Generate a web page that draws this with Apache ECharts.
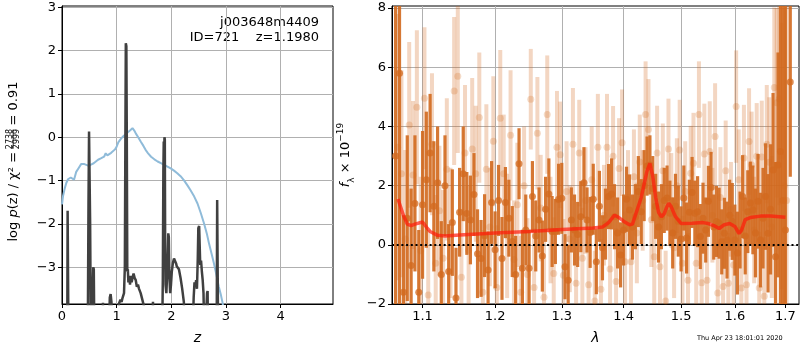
<!DOCTYPE html>
<html lang="en">
<head>
    <meta charset="UTF-8">
    <title>pz and spectrum</title>
    <script src="https://cdn.jsdelivr.net/npm/echarts@6/dist/echarts.min.js"></script>
    <style>
        html, body { margin: 0; padding: 0; background: #fff; }
    </style>
</head>
<body>
<div id="myChart" style="width: 800px;height:350px;"></div>
<script type="text/javascript">
    // left panel: log p(z)
    var zTicks = [0, 1, 2, 3, 4];
    var pTicks = [-3, -2, -1, 0, 1, 2, 3];
    var zBlue = [0.0, 0.02, 0.05, 0.08, 0.11, 0.16, 0.19, 0.22, 0.26, 0.3, 0.35, 0.38, 0.41, 0.44, 0.49, 0.53, 0.58, 0.62, 0.66, 0.69,
        0.71, 0.74, 0.77, 0.8, 0.83, 0.86, 0.9, 0.93, 0.97, 1.0, 1.03, 1.07, 1.11, 1.16, 1.2, 1.25, 1.29, 1.32, 1.35, 1.4,
        1.44, 1.49, 1.53, 1.58, 1.63, 1.69, 1.75, 1.81, 1.87, 1.93, 1.99, 2.05, 2.11, 2.17, 2.23, 2.29, 2.35, 2.42, 2.48, 2.54,
        2.6, 2.65, 2.69, 2.74, 2.78, 2.83, 2.87, 2.91, 2.94, 2.97];
    var pBlue = [-1.55, -1.35, -1.18, -1.05, -0.97, -0.93, -0.94, -0.98, -0.8, -0.72, -0.62, -0.58, -0.62, -0.64, -0.66, -0.63, -0.6, -0.56, -0.52, -0.54,
        -0.49, -0.51, -0.45, -0.37, -0.42, -0.4, -0.36, -0.34, -0.28, -0.22, -0.12, -0.05, 0.01, 0.06, 0.11, 0.16, 0.21, 0.16, 0.09, -0.01,
        -0.1, -0.2, -0.29, -0.38, -0.45, -0.51, -0.56, -0.6, -0.64, -0.68, -0.72, -0.77, -0.83, -0.9, -0.99, -1.1, -1.22, -1.37, -1.53, -1.75,
        -1.99, -2.22, -2.45, -2.7, -2.91, -3.2, -3.45, -3.65, -3.83, -4.1];
    var zDark = [0.0, 0.095, 0.103, 0.113, 0.12, 0.47, 0.485, 0.495, 0.505, 0.515, 0.53, 0.56, 0.572, 0.582, 0.595,
        0.73, 0.75, 0.765, 0.85, 0.875, 0.89, 0.905, 0.92, 1.0, 1.04, 1.07, 1.09, 1.11, 1.135, 1.15,
        1.16, 1.168, 1.178, 1.186, 1.195, 1.205, 1.215, 1.23, 1.245, 1.26, 1.275, 1.29, 1.31, 1.33, 1.35,
        1.37, 1.39, 1.41, 1.44, 1.47, 1.5, 1.52, 1.64, 1.665, 1.685, 1.83, 1.845, 1.855, 1.862, 1.868,
        1.875, 1.882, 1.888, 1.895, 1.91, 1.93, 1.945, 1.955, 1.965, 1.98, 1.995, 2.01, 2.03, 2.05, 2.07,
        2.09, 2.1, 2.12, 2.14, 2.17, 2.2, 2.23, 2.25, 2.38, 2.41, 2.425, 2.44, 2.455, 2.47, 2.485,
        2.495, 2.51, 2.52, 2.53, 2.545, 2.56, 2.575, 2.59, 2.61, 2.645, 2.655, 2.665, 2.675, 2.83, 2.84,
        2.85, 2.86, 4.96];
    var pDark = [-5, -5, -1.7, -1.7, -5, -5, -1.5, 0.13, 0.1, -2.0, -5, -5, -3.0, -3.05, -5,
        -5, -3.82, -5, -5, -3.7, -3.62, -3.8, -5, -5, -3.85, -3.75, -3.8, -3.7, -3.6, -3.0,
        0.0, 2.17, 2.1, 0.0, -3.1, -3.05, -3.35, -3.2, -3.4, -3.2, -3.35, -3.25, -3.15, -3.25, -3.3,
        -3.45, -3.4, -3.5, -3.6, -3.75, -3.9, -5, -5, -3.8, -5, -5, -3.3, -0.8, -0.1, -1.0,
        0.0, -0.05, -2.5, -3.4, -3.6, -3.0, -2.22, -2.3, -3.2, -3.6, -3.4, -3.1, -2.9, -2.8, -2.78,
        -2.92, -2.98, -2.95, -3.05, -3.25, -3.5, -3.8, -5, -5, -3.7, -3.35, -3.45, -3.3, -3.5, -2.8,
        -2.1, -2.05, -2.5, -2.95, -2.85, -3.1, -3.3, -3.6, -5, -5, -3.6, -3.55, -5, -5, -1.45,
        -1.45, -5, -5];

    // right panel: spectrum
    var lamTicks = [1.1, 1.2, 1.3, 1.4, 1.5, 1.6, 1.7];
    var fTicks = [-2, 0, 2, 4, 6, 8];
    var darkLam = [1.065, 1.070, 1.075, 1.080, 1.085, 1.090, 1.095, 1.100, 1.105, 1.110,
        1.115, 1.120, 1.125, 1.130, 1.135, 1.140, 1.145, 1.150, 1.155, 1.160,
        1.165, 1.170, 1.175, 1.180, 1.185, 1.190, 1.195, 1.200, 1.205, 1.210,
        1.215, 1.220, 1.225, 1.230, 1.235, 1.240, 1.245, 1.250, 1.255, 1.260,
        1.265, 1.270, 1.275, 1.280, 1.285, 1.290, 1.295, 1.300, 1.305, 1.310,
        1.315, 1.320, 1.325, 1.330, 1.335, 1.340, 1.345, 1.350, 1.355, 1.360,
        1.365, 1.370, 1.375, 1.380, 1.385, 1.390, 1.395, 1.400, 1.405, 1.410,
        1.415, 1.420, 1.425, 1.430, 1.435, 1.440, 1.445, 1.450, 1.455, 1.460,
        1.465, 1.470, 1.475, 1.480, 1.485, 1.490, 1.495, 1.500, 1.505, 1.510,
        1.515, 1.520, 1.525, 1.530, 1.535, 1.540, 1.545, 1.550, 1.555, 1.560,
        1.565, 1.570, 1.575, 1.580, 1.585, 1.590, 1.595, 1.600, 1.605, 1.610,
        1.615, 1.620, 1.625, 1.630, 1.635, 1.640, 1.645, 1.650, 1.655, 1.660,
        1.665, 1.670, 1.675, 1.680, 1.685, 1.690, 1.695, 1.700, 1.710];
    var darkFlux = [3.0, 5.8, -1.6, 0.9, -0.7, 1.4, -1.6, 1.35, 2.2, 3.1,
        1.3, 2.1, -1.0, 2.0, -0.9, 0.75, -1.8, 1.1, 2.4, 1.06,
        0.84, 1.7, -0.3, -0.46, 0.31, -0.85, 1.43, -0.17, 1.5, -0.46,
        1.43, 0.9, 0.11, -1.0, 2.74, -0.79, 0.5, -0.79, 1.63, 0.3,
        0.84, -0.38, 1.2, 1.72, 0.45, 0.45, 1.54, 1.57, -0.74, -1.2,
        0.84, 0.5, 0.35, 0.95, 2.1, 0.84, 0.42, 1.54, -0.57, 1.3,
        -0.1, 0.7, 1.63, 1.72, 0.95, 0.4, -0.34, 0.5, 1.54, 1.18,
        0.6, 0.95, 1.8, 1.12, 2.0, 2.66, 2.7, 1.9, 1.3, 0.6,
        0.95, 1.5, 1.58, 1.07, 0.4, 1.3, 0.8, 0.2, 1.58, 0.23,
        1.1, 1.77, 1.07, 1.12, 0.28, 0.9, 0.5, 1.47, 1.94, 0.6,
        0.79, 0.73, 0.1, 0.39, 0.16, 1.0, 0.79, 0.16, -0.28, 0.5,
        1.63, 0.3, 1.12, 1.41, 1.18, 0.4, 1.47, 0.16, 0.9, 1.63,
        0.39, 1.2, 2.53, -0.4, 2.7, 3.15, 1.5, 0.5, 5.5];
    var darkErr = [9, 8, 2.6, 2.8, 2.6, 2.3, 2.1, 2.5, 2.3, 2.0,
        2.2, 1.9, 1.8, 1.7, 1.6, 1.8, 1.7, 1.5, 1.6, 1.4,
        1.5, 1.4, 1.5, 1.3, 1.4, 1.3, 1.4, 1.3, 1.2, 1.4,
        1.2, 1.3, 1.2, 1.3, 1.2, 1.3, 1.2, 1.3, 1.2, 1.2,
        1.1, 1.2, 1.1, 1.2, 1.2, 1.1, 1.2, 1.2, 1.1, 1.2,
        1.1, 1.2, 1.1, 1.2, 1.2, 1.1, 1.2, 1.2, 1.1, 1.2,
        1.1, 1.2, 1.1, 1.2, 1.1, 1.2, 1.1, 1.2, 1.1, 1.2,
        1.1, 1.1, 1.2, 1.1, 1.2, 1.0, 1.0, 1.1, 1.1, 1.2,
        1.1, 1.1, 1.1, 1.1, 1.2, 1.1, 1.2, 1.1, 1.1, 1.2,
        1.1, 1.2, 1.1, 1.2, 1.1, 1.2, 1.1, 1.2, 1.2, 1.1,
        1.2, 1.2, 1.1, 1.2, 1.3, 1.2, 1.3, 1.2, 1.4, 1.3,
        1.4, 1.3, 1.4, 1.4, 1.5, 1.5, 1.6, 1.6, 1.7, 1.8,
        2.0, 2.2, 2.6, 3.2, 3.8, 5.5, 7, 9, 3.2];
    var lightLam = [1.0675, 1.0725, 1.0775, 1.0825, 1.0875, 1.0925, 1.0975, 1.1025, 1.1075, 1.1125,
        1.1175, 1.1225, 1.1275, 1.1325, 1.1375, 1.1425, 1.1475, 1.1525, 1.1575, 1.1625,
        1.1675, 1.1725, 1.1775, 1.1825, 1.1875, 1.1925, 1.1975, 1.2025, 1.2075, 1.2125,
        1.2175, 1.2225, 1.2275, 1.2325, 1.2375, 1.2425, 1.2475, 1.2525, 1.2575, 1.2625,
        1.2675, 1.2725, 1.2775, 1.2825, 1.2875, 1.2925, 1.2975, 1.3025, 1.3075, 1.3125,
        1.3175, 1.3225, 1.3275, 1.3325, 1.3375, 1.3425, 1.3475, 1.3525, 1.3575, 1.3625,
        1.3675, 1.3725, 1.3775, 1.3825, 1.3875, 1.3925, 1.3975, 1.4025, 1.4075, 1.4125,
        1.4175, 1.4225, 1.4275, 1.4325, 1.4375, 1.4425, 1.4475, 1.4525, 1.4575, 1.4625,
        1.4675, 1.4725, 1.4775, 1.4825, 1.4875, 1.4925, 1.4975, 1.5025, 1.5075, 1.5125,
        1.5175, 1.5225, 1.5275, 1.5325, 1.5375, 1.5425, 1.5475, 1.5525, 1.5575, 1.5625,
        1.5675, 1.5725, 1.5775, 1.5825, 1.5875, 1.5925, 1.5975, 1.6025, 1.6075, 1.6125,
        1.6175, 1.6225, 1.6275, 1.6325, 1.6375, 1.6425, 1.6475, 1.6525, 1.6575, 1.6625,
        1.6675, 1.6725, 1.6775, 1.6825, 1.6875, 1.6925, 1.6975, 1.7025];
    var lightFlux = [3.3, 2.4, 0.2, 4.05, 2.36, 4.65, -0.2, 4.95, -1.7, 3.4,
        -0.62, 1.15, -0.45, 2.55, 0.4, 5.2, 5.7, -1.1, 3.1, -0.18,
        3.24, 2.4, 4.3, -1.6, 2.55, 0.6, 3.5, -1.44, 4.28, 2.4,
        0.3, 3.7, -0.5, 1.35, -1.6, 2.0, -1.0, 4.92, -1.44, 3.77,
        1.24, -1.77, 4.4, 0.5, -0.97, 3.3, 3.04, -1.03, 1.8, 0.2,
        3.4, -1.3, 3.1, -0.45, 1.5, -1.35, 2.2, -1.9, 3.3, -1.5,
        1.0, 3.3, -0.82, 2.99, -1.24, 2.58, 3.45, -0.57, 1.6, -0.57,
        2.3, 0.4, 2.8, 1.5, 4.4, 3.9, 0.85, -0.4, 3.1, -0.74,
        2.5, -1.9, 3.24, 1.5, -0.1, 2.0, 3.2, -0.62, 1.8, -1.2,
        2.42, 2.76, -0.62, 4.4, -1.28, 3.07, -1.2, 3.15, 1.0, 3.66,
        -1.63, 1.6, -1.41, 2.5, -1.3, 1.2, -0.68, 4.67, 2.2, -1.46,
        2.93, -1.35, 3.49, 2.7, 0.5, 2.99, -1.46, 2.97, -1.74, 3.4,
        2.79, 0.6, 5.32, 4.8, 4.94, 3.0, 2.0, 1.5];
    var lightErr = [4.5, 3.5, 3.0, 2.8, 2.5, 2.6, 2.5, 2.4, 2.2, 2.4,
        2.3, 2.2, 2.3, 2.4, 2.2, 2.5, 2.6, 2.3, 2.3, 2.2,
        2.4, 2.3, 2.2, 2.1, 2.2, 2.0, 2.2, 2.1, 2.3, 2.0,
        2.1, 2.2, 2.0, 2.1, 1.9, 2.0, 1.9, 1.7, 2.0, 1.9,
        1.8, 1.9, 2.0, 1.8, 1.9, 1.9, 1.8, 1.9, 1.7, 1.8,
        1.9, 1.8, 1.8, 1.7, 1.8, 1.7, 1.8, 1.7, 1.8, 1.7,
        1.7, 1.8, 1.7, 1.7, 1.8, 1.7, 1.8, 1.7, 1.6, 1.7,
        1.6, 1.7, 1.6, 1.7, 1.8, 1.7, 1.6, 1.7, 1.6, 1.7,
        1.6, 1.7, 1.7, 1.6, 1.7, 1.6, 1.7, 1.6, 1.7, 1.6,
        1.6, 1.7, 1.6, 1.8, 1.7, 1.7, 1.6, 1.7, 1.6, 1.8,
        1.7, 1.7, 1.6, 1.7, 1.7, 1.6, 1.7, 1.9, 1.7, 1.7,
        1.8, 1.7, 1.8, 1.8, 1.8, 1.8, 1.9, 1.9, 2.0, 2.0,
        2.2, 2.4, 2.7, 3.2, 3.6, 4.5, 6, 7];
    var modelLam = [1.068, 1.075, 1.08, 1.085, 1.09, 1.1, 1.105, 1.11, 1.12, 1.13, 1.15, 1.2, 1.25, 1.3, 1.35,
        1.365, 1.375, 1.385, 1.39, 1.4, 1.41, 1.415, 1.42, 1.43, 1.44, 1.445, 1.45, 1.455, 1.46, 1.465,
        1.47, 1.475, 1.478, 1.482, 1.49, 1.5, 1.52, 1.54, 1.55, 1.56, 1.57, 1.58, 1.59, 1.6, 1.608,
        1.613, 1.62, 1.63, 1.65, 1.67, 1.7];
    var modelFlux = [1.55, 1.0, 0.7, 0.65, 0.7, 0.77, 0.6, 0.45, 0.32, 0.3, 0.33, 0.4, 0.45, 0.52, 0.57,
        0.6, 0.75, 1.0, 0.95, 0.8, 0.68, 0.7, 1.0, 1.6, 2.5, 2.75, 2.3, 1.6, 1.1, 0.95,
        1.05, 1.3, 1.4, 1.3, 0.95, 0.72, 0.73, 0.75, 0.72, 0.65, 0.55, 0.68, 0.72, 0.62, 0.38,
        0.5, 0.85, 0.92, 0.97, 0.97, 0.93];

    var FONT = 'DejaVu Sans';
    var lamMin = 1.0604, lamMax = 1.728;

    function pairs(xs, ys) {
        var out = [];
        for (var i = 0; i < xs.length; i++) {
            out.push([xs[i], ys[i]]);
        }
        return out;
    }

    function logPairs(xs, ys, es) {
        var out = [];
        for (var i = 0; i < xs.length; i++) {
            if (es) {
                out.push([Math.log10(xs[i]), ys[i], es[i]]);
            } else {
                out.push([Math.log10(xs[i]), ys[i]]);
            }
        }
        return out;
    }

    function minusFmt(v) {
        return v < 0 ? '\u2212' + Math.abs(v) : String(v);
    }

    function errRender(color, width) {
        return function (params, api) {
            var x = api.value(0), y = api.value(1), e = api.value(2);
            var lo = api.coord([x, y - e]);
            var hi = api.coord([x, y + e]);
            return {
                type: 'line',
                shape: {x1: lo[0], y1: lo[1], x2: hi[0], y2: hi[1]},
                style: {stroke: color, lineWidth: width}
            };
        };
    }

    var axisCommon = {
        axisLine: {show: true, onZero: false, lineStyle: {color: '#000', width: 1}},
        splitLine: {show: true, lineStyle: {color: '#b0b0b0', width: 1}}
    };

    function makeAxis(extra, ticks, fmt) {
        var a = {
            type: 'value',
            axisLine: axisCommon.axisLine,
            splitLine: axisCommon.splitLine,
            axisTick: {show: true, length: 4, customValues: ticks, lineStyle: {color: '#000'}},
            axisLabel: {customValues: ticks, color: '#000', fontSize: 13, fontFamily: FONT, margin: 6, formatter: fmt}
        };
        for (var k in extra) a[k] = extra[k];
        return a;
    }

    var lamTickVals = lamTicks.map(function (v) { return Math.log10(v); });

    var myChart = echarts.init(document.getElementById('myChart'), null, {renderer: 'canvas'});
    var option = {
        animation: false,
        backgroundColor: '#fff',
        grid: [
            {left: 62, top: 6, width: 271, height: 298, show: true, borderColor: '#000', borderWidth: 1, containLabel: false},
            {left: 392, top: 6, width: 407, height: 298, show: true, borderColor: '#000', borderWidth: 1, containLabel: false}
        ],
        xAxis: [
            makeAxis({gridIndex: 0, min: 0, max: 4.96, name: 'z', nameLocation: 'middle', nameGap: 27,
                nameTextStyle: {fontStyle: 'italic', fontSize: 14, fontFamily: FONT, color: '#000'}}, zTicks, minusFmt),
            makeAxis({gridIndex: 1, min: Math.log10(lamMin), max: Math.log10(lamMax), name: 'λ', nameLocation: 'middle', nameGap: 27,
                nameTextStyle: {fontStyle: 'italic', fontSize: 14, fontFamily: FONT, color: '#000'}}, lamTickVals,
                function (v) { return Math.pow(10, v).toFixed(1); })
        ],
        yAxis: [
            makeAxis({gridIndex: 0, min: -3.85, max: 3.03}, pTicks, minusFmt),
            makeAxis({gridIndex: 1, min: -2, max: 8.07, name: '{i|f}{s|λ}{n| × 10}{p|\u221219}', nameLocation: 'middle', nameGap: 36,
                nameTextStyle: {
                    color: '#000', fontFamily: FONT, fontSize: 13,
                    rich: {
                        i: {fontStyle: 'italic', fontSize: 13, fontFamily: FONT, color: '#000', lineHeight: 20},
                        s: {fontSize: 9, fontFamily: FONT, color: '#000', verticalAlign: 'bottom', lineHeight: 20},
                        n: {fontSize: 13, fontFamily: FONT, color: '#000', lineHeight: 20},
                        p: {fontSize: 9, fontFamily: FONT, color: '#000', verticalAlign: 'top', lineHeight: 20}
                    }
                }}, fTicks, minusFmt)
        ],
        series: [
            {
                type: 'line', xAxisIndex: 0, yAxisIndex: 0, data: pairs(zBlue, pBlue),
                showSymbol: false, clip: true, lineStyle: {color: '#8fbbd9', width: 2}, z: 2
            },
            {
                type: 'line', xAxisIndex: 0, yAxisIndex: 0, data: pairs(zDark, pDark),
                showSymbol: false, clip: true, lineStyle: {color: '#404040', width: 2.5}, z: 3
            },
            {
                type: 'custom', xAxisIndex: 1, yAxisIndex: 1, data: logPairs(lightLam, lightFlux, lightErr),
                encode: {x: 0, y: 1}, clip: true, renderItem: errRender('rgba(210,105,30,0.27)', 4), z: 2
            },
            {
                type: 'scatter', xAxisIndex: 1, yAxisIndex: 1, data: logPairs(lightLam, lightFlux),
                symbolSize: 7, itemStyle: {color: 'rgba(210,105,30,0.3)'}, z: 2
            },
            {
                type: 'custom', xAxisIndex: 1, yAxisIndex: 1, data: logPairs(darkLam, darkFlux, darkErr),
                encode: {x: 0, y: 1}, clip: true, renderItem: errRender('rgba(210,105,30,0.9)', 3.2), z: 3
            },
            {
                type: 'scatter', xAxisIndex: 1, yAxisIndex: 1, data: logPairs(darkLam, darkFlux),
                symbolSize: 7, itemStyle: {color: 'rgba(210,105,30,0.95)'}, z: 3
            },
            {
                type: 'line', xAxisIndex: 1, yAxisIndex: 1, data: logPairs(modelLam, modelFlux),
                showSymbol: false, clip: true, lineStyle: {color: 'rgba(255,25,10,0.7)', width: 3.5}, z: 4,
                markLine: {
                    silent: true, symbol: 'none', label: {show: false},
                    lineStyle: {color: '#000', type: [2, 2.7], width: 2},
                    data: [{yAxis: 0}]
                }
            }
        ],
        graphic: [
            {
                type: 'group', x: 13.5, y: 241.5, rotation: Math.PI / 2,
                children: [
                    {type: 'text', x: 0, y: 0, style: {
                        text: 'log {i|p}(z) / χ² =', fontSize: 13, fontFamily: FONT, fill: '#000',
                        align: 'left', verticalAlign: 'middle',
                        rich: {i: {fontStyle: 'italic', fontSize: 13, fontFamily: FONT, fill: '#000'}}
                    }},
                    {type: 'text', x: 102.5, y: -4, style: {
                        text: '2738', fontSize: 8, fontFamily: FONT, fill: '#000', align: 'center', verticalAlign: 'middle'
                    }},
                    {type: 'line', shape: {x1: 93, y1: -0.3, x2: 112, y2: -0.3}, style: {stroke: '#000', lineWidth: 0.8}},
                    {type: 'text', x: 102.5, y: 3.6, style: {
                        text: '2999', fontSize: 8, fontFamily: FONT, fill: '#000', align: 'center', verticalAlign: 'middle'
                    }},
                    {type: 'text', x: 116, y: 0, style: {
                        text: '= 0.91', fontSize: 13, fontFamily: FONT, fill: '#000', align: 'left', verticalAlign: 'middle'
                    }}
                ]
            },
            {type: 'text', right: 800 - 319, top: 16, style: {
                text: 'j003648m4409', fontSize: 13, fontFamily: FONT, fill: '#000', align: 'right'
            }},
            {type: 'text', right: 800 - 319, top: 31, style: {
                text: 'ID=721    z=1.1980', fontSize: 13, fontFamily: FONT, fill: '#000', align: 'right'
            }},
            {type: 'text', left: 697, top: 335, style: {
                text: 'Thu Apr 23 18:01:01 2020', fontSize: 6.5, fontFamily: FONT, fill: '#000'
            }}
        ]
    };
    myChart.setOption(option);
</script>
</body>
</html>
